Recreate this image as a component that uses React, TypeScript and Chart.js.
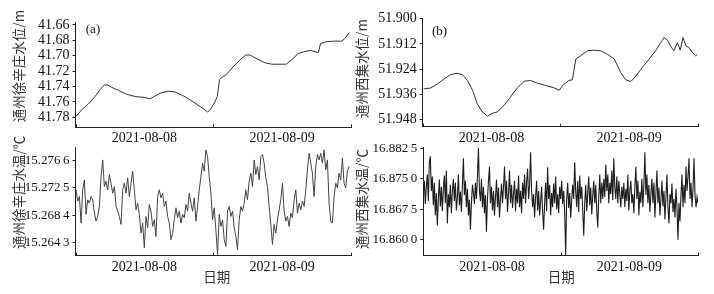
import React, { useEffect, useRef } from 'react';
import { Chart, registerables } from 'chart.js';

Chart.register(...registerables);

// ---------- shared axis data ----------
const dayLabels = ['2021-08-08', '2021-08-09'];
const dayLabelHours = [12, 36];
const dayBoundaryHours = [0, 24, 48];

// ---------- (a) 通州徐辛庄 water level ----------
const levelAHours = [0.1, 1.1, 2.2, 3.4, 4.3, 5.0, 5.6, 6.3, 7.5, 8.9, 10.4, 11.8, 13.0, 13.9, 15.0, 16.2, 17.3, 18.5, 19.7, 21.1, 22.3, 23.0, 23.4, 24.3, 24.7, 25.1, 25.5, 26.2, 27.5, 28.7, 29.7, 30.4, 31.6, 33.0, 34.2, 35.1, 36.7, 37.7, 38.8, 39.7, 40.9, 42.3, 42.7, 43.5, 44.9, 46.4, 47.0, 47.7];
const levelAValues = [41.779, 41.770, 41.763, 41.753, 41.744, 41.738, 41.738, 41.741, 41.745, 41.750, 41.753, 41.754, 41.756, 41.752, 41.748, 41.746, 41.747, 41.751, 41.756, 41.763, 41.769, 41.773, 41.771, 41.760, 41.753, 41.731, 41.728, 41.725, 41.714, 41.705, 41.699, 41.699, 41.704, 41.709, 41.711, 41.711, 41.711, 41.705, 41.697, 41.695, 41.693, 41.696, 41.684, 41.682, 41.681, 41.681, 41.677, 41.670];
const levelATicks = [41.66, 41.68, 41.70, 41.72, 41.74, 41.76, 41.78];
const levelATickLabels = ['41.66', '41.68', '41.70', '41.72', '41.74', '41.76', '41.78'];

// ---------- (b) 通州西集 water level ----------
const levelBHours = [0.2, 1.4, 2.6, 3.7, 4.9, 6.0, 6.9, 7.8, 8.7, 9.5, 10.4, 11.3, 12.1, 13.0, 14.2, 15.3, 16.5, 17.7, 18.8, 20.0, 21.4, 22.9, 23.8, 24.4, 24.9, 25.5, 26.1, 26.7, 27.5, 28.7, 29.9, 31.0, 32.2, 33.4, 34.5, 35.4, 36.3, 37.1, 38.3, 39.5, 40.6, 41.5, 42.1, 42.7, 43.2, 43.8, 44.4, 44.9, 45.4, 45.9, 46.4, 47.0, 47.6, 47.9];
const levelBValues = [51.9334, 51.9330, 51.9310, 51.9287, 51.9266, 51.9260, 51.9266, 51.9294, 51.9341, 51.9404, 51.9444, 51.9464, 51.9451, 51.9444, 51.9412, 51.9373, 51.9329, 51.9298, 51.9294, 51.9307, 51.9318, 51.9329, 51.9341, 51.9318, 51.9307, 51.9294, 51.9291, 51.9192, 51.9177, 51.9153, 51.9150, 51.9153, 51.9169, 51.9192, 51.9255, 51.9291, 51.9299, 51.9276, 51.9232, 51.9192, 51.9153, 51.9114, 51.9090, 51.9103, 51.9130, 51.9153, 51.9114, 51.9150, 51.9090, 51.9130, 51.9137, 51.9161, 51.9177, 51.9169];
const levelBTicks = [51.900, 51.912, 51.924, 51.936, 51.948];
const levelBTickLabels = ['51.900', '51.912', '51.924', '51.936', '51.948'];

// ---------- (a) 通州徐辛庄 water temperature ----------
const tempAStartHour = 0.1;
const tempAStepHour = 0.29;
const tempAValues = [
  15.2722, 15.2705, 15.2712, 15.2672, 15.2722, 15.2737, 15.2685, 15.2707, 15.2702, 15.2712,
  15.2707, 15.2687, 15.2675, 15.2682, 15.2697, 15.2742, 15.2767, 15.2727, 15.2735, 15.2722,
  15.2745, 15.2732, 15.2717, 15.2727, 15.2697, 15.2690, 15.2682, 15.2670, 15.2722, 15.2732,
  15.2717, 15.2740, 15.2712, 15.2732, 15.2750, 15.2722, 15.2692, 15.2702, 15.2685, 15.2657,
  15.2672, 15.2635, 15.2682, 15.2665, 15.2700, 15.2690, 15.2667, 15.2677, 15.2652, 15.2712,
  15.2722, 15.2710, 15.2717, 15.2697, 15.2705, 15.2682, 15.2672, 15.2647, 15.2657, 15.2677,
  15.2695, 15.2680, 15.2690, 15.2672, 15.2685, 15.2680, 15.2700, 15.2690, 15.2717, 15.2702,
  15.2690, 15.2710, 15.2675, 15.2697, 15.2722, 15.2742, 15.2762, 15.2750, 15.2782, 15.2772,
  15.2742, 15.2717, 15.2677, 15.2695, 15.2662, 15.2625, 15.2685, 15.2667, 15.2677, 15.2647,
  15.2637, 15.2690, 15.2697, 15.2682, 15.2690, 15.2665, 15.2652, 15.2632, 15.2677, 15.2697,
  15.2690, 15.2702, 15.2722, 15.2707, 15.2735, 15.2747, 15.2727, 15.2767, 15.2745, 15.2757,
  15.2737, 15.2772, 15.2775, 15.2762, 15.2740, 15.2727, 15.2697, 15.2670, 15.2640, 15.2670,
  15.2657, 15.2677, 15.2692, 15.2707, 15.2732, 15.2690, 15.2675, 15.2682, 15.2667, 15.2687,
  15.2680, 15.2707, 15.2722, 15.2687, 15.2702, 15.2692, 15.2705, 15.2697, 15.2722, 15.2752,
  15.2777, 15.2762, 15.2747, 15.2712, 15.2757, 15.2775, 15.2767, 15.2777, 15.2762, 15.2782,
  15.2752, 15.2767, 15.2702, 15.2675, 15.2672, 15.2712, 15.2732, 15.2725, 15.2747, 15.2737,
  15.2770, 15.2732, 15.2725, 15.2750, 15.2757,
];
const tempATicks = [15.2643, 15.2684, 15.2725, 15.2766];
const tempATickLabels = ['15.264\u20093', '15.268\u20094', '15.272\u20095', '15.276\u20096'];

// ---------- (b) 通州西集 water temperature ----------
const tempBStartHour = 0;
const tempBStepHour = 0.1752;
const tempBValues = [
  16.8712, 16.8745, 16.8688, 16.8730, 16.8760, 16.8695, 16.8790, 16.8805, 16.8720, 16.8755,
  16.8685, 16.8740, 16.8660, 16.8715, 16.8635, 16.8700, 16.8748, 16.8682, 16.8730, 16.8670,
  16.8725, 16.8758, 16.8690, 16.8770, 16.8640, 16.8712, 16.8680, 16.8735, 16.8665, 16.8720,
  16.8750, 16.8695, 16.8740, 16.8672, 16.8705, 16.8760, 16.8685, 16.8718, 16.8668, 16.8735,
  16.8800, 16.8710, 16.8745, 16.8680, 16.8725, 16.8660, 16.8698, 16.8625, 16.8690, 16.8735,
  16.8715, 16.8688, 16.8740, 16.8700, 16.8758, 16.8825, 16.8720, 16.8695, 16.8750, 16.8680,
  16.8730, 16.8665, 16.8710, 16.8620, 16.8700, 16.8745, 16.8780, 16.8690, 16.8730, 16.8672,
  16.8720, 16.8660, 16.8705, 16.8748, 16.8680, 16.8728, 16.8655, 16.8700, 16.8738, 16.8690,
  16.8730, 16.8780, 16.8700, 16.8745, 16.8668, 16.8715, 16.8770, 16.8690, 16.8735, 16.8678,
  16.8712, 16.8745, 16.8670, 16.8725, 16.8690, 16.8758, 16.8680, 16.8720, 16.8665, 16.8740,
  16.8700, 16.8760, 16.8690, 16.8740, 16.8775, 16.8700, 16.8735, 16.8815, 16.8720, 16.8680,
  16.8712, 16.8655, 16.8705, 16.8745, 16.8672, 16.8720, 16.8660, 16.8695, 16.8730, 16.8668,
  16.8625, 16.8690, 16.8740, 16.8670, 16.8778, 16.8700, 16.8735, 16.8660, 16.8715, 16.8680,
  16.8738, 16.8690, 16.8755, 16.8675, 16.8712, 16.8665, 16.8730, 16.8700, 16.8745, 16.8688,
  16.8720, 16.8668, 16.8563, 16.8700, 16.8740, 16.8678, 16.8715, 16.8655, 16.8698, 16.8735,
  16.8700, 16.8790, 16.8720, 16.8680, 16.8745, 16.8668, 16.8758, 16.8700, 16.8730, 16.8672,
  16.8610, 16.8690, 16.8735, 16.8670, 16.8715, 16.8755, 16.8685, 16.8728, 16.8662, 16.8710,
  16.8745, 16.8690, 16.8735, 16.8672, 16.8630, 16.8705, 16.8760, 16.8690, 16.8740, 16.8700,
  16.8750, 16.8705, 16.8785, 16.8720, 16.8760, 16.8690, 16.8740, 16.8712, 16.8770, 16.8698,
  16.8800, 16.8730, 16.8700, 16.8755, 16.8690, 16.8745, 16.8712, 16.8680, 16.8730, 16.8700,
  16.8740, 16.8680, 16.8725, 16.8695, 16.8760, 16.8672, 16.8720, 16.8745, 16.8690, 16.8712,
  16.8665, 16.8730, 16.8780, 16.8700, 16.8745, 16.8660, 16.8718, 16.8690, 16.8750, 16.8680,
  16.8735, 16.8815, 16.8710, 16.8760, 16.8690, 16.8735, 16.8668, 16.8712, 16.8750, 16.8690,
  16.8740, 16.8655, 16.8715, 16.8770, 16.8690, 16.8728, 16.8660, 16.8700, 16.8745, 16.8682,
  16.8720, 16.8650, 16.8705, 16.8760, 16.8680, 16.8640, 16.8712, 16.8690, 16.8738, 16.8668,
  16.8700, 16.8655, 16.8725, 16.8680, 16.8600, 16.8690, 16.8645, 16.8710, 16.8760, 16.8680,
  16.8735, 16.8690, 16.8780, 16.8720, 16.8755, 16.8800, 16.8700, 16.8740, 16.8680, 16.8725,
  16.8800, 16.8710, 16.8680, 16.8705, 16.8690,
];
const tempBTicks = [16.8600, 16.8675, 16.8750, 16.8825];
const tempBTickLabels = ['16.860\u20090', '16.867\u20095', '16.875\u20090', '16.882\u20095'];

// ---------- styling ----------
const SERIF = '"Liberation Serif", "Times New Roman", serif';
const CJK = '"Noto Sans CJK SC", "Noto Sans", sans-serif';
const AXIS_COLOR = '#222';
const TEXT_COLOR = '#111';
const TITLE_COLOR = '#333';

type Pt = { x: number; y: number };

type PanelSpec = {
  left: number; top: number; width: number; height: number;
  areaLeft: number; areaTop: number; areaRight: number; areaBottom: number;
  points: Pt[];
  yMin: number; yMax: number; reverse: boolean;
  yTicks: number[]; yTickLabels: string[]; yFontSize: number;
  yTitle: string; yTitleX: number; yTitleY: number;
  tag?: string; tagX?: number; tagY?: number;
  xTitle?: string; xTitleX?: number; xTitleY?: number;
  lineColor: string; lineWidth: number;
};

function pairs(xs: number[], ys: number[]): Pt[] {
  return ys.map((y, i) => ({ x: xs[i], y }));
}
function regular(start: number, step: number, ys: number[]): Pt[] {
  return ys.map((y, i) => ({ x: start + i * step, y }));
}

function Panel({ spec }: { spec: PanelSpec }) {
  const ref = useRef<HTMLCanvasElement | null>(null);
  useEffect(() => {
    if (!ref.current) return;
    const s = spec;
    const decor = {
      id: 'decor',
      afterDraw(chart: any) {
        const ctx = chart.ctx;
        const area = chart.chartArea;
        const xs = chart.scales.x;
        ctx.save();
        ctx.strokeStyle = AXIS_COLOR;
        ctx.lineWidth = 1;
        dayBoundaryHours.forEach((h) => {
          const px = Math.round(xs.getPixelForValue(h)) + 0.5;
          ctx.beginPath();
          ctx.moveTo(px, area.bottom);
          ctx.lineTo(px, area.bottom - 3);
          ctx.stroke();
        });
        ctx.fillStyle = TITLE_COLOR;
        ctx.font = `13.5px ${CJK}`;
        ctx.textAlign = 'center';
        ctx.textBaseline = 'middle';
        ctx.translate(s.yTitleX, s.yTitleY);
        ctx.rotate(-Math.PI / 2);
        ctx.fillText(s.yTitle, 0, 0);
        ctx.restore();
        ctx.save();
        if (s.tag) {
          ctx.fillStyle = TEXT_COLOR;
          ctx.font = `13px ${SERIF}`;
          ctx.textAlign = 'center';
          ctx.textBaseline = 'middle';
          ctx.fillText(s.tag, s.tagX, s.tagY);
        }
        if (s.xTitle) {
          ctx.fillStyle = TITLE_COLOR;
          ctx.font = `13.5px ${CJK}`;
          ctx.textAlign = 'center';
          ctx.textBaseline = 'middle';
          ctx.fillText(s.xTitle, s.xTitleX, s.xTitleY);
        }
        ctx.restore();
      },
    };
    const chart = new Chart(ref.current, {
      type: 'line',
      data: {
        datasets: [
          {
            data: s.points,
            borderColor: s.lineColor,
            borderWidth: s.lineWidth,
            pointRadius: 0,
            tension: 0,
            fill: false,
          },
        ],
      },
      options: {
        animation: false,
        responsive: false,
        devicePixelRatio: 1,
        events: [],
        parsing: false,
        layout: { padding: { left: 0, top: s.areaTop, right: s.width - s.areaRight, bottom: 0 } },
        plugins: { legend: { display: false }, tooltip: { enabled: false } },
        scales: {
          x: {
            type: 'linear',
            min: 0,
            max: 48,
            grid: { display: false, drawTicks: false },
            border: { display: true, color: AXIS_COLOR, width: 1 },
            ticks: {
              font: { family: SERIF, size: 14 },
              color: TEXT_COLOR,
              padding: 3,
              maxRotation: 0,
              autoSkip: false,
              callback: (_v: any, i: number) => dayLabels[i],
            },
            afterBuildTicks: (axis: any) => {
              axis.ticks = dayLabelHours.map((v) => ({ value: v }));
            },
            afterFit: (axis: any) => {
              axis.height = s.height - s.areaBottom;
            },
          },
          y: {
            type: 'linear',
            min: s.yMin,
            max: s.yMax,
            reverse: s.reverse,
            grid: { display: true, drawOnChartArea: false, drawTicks: true, tickLength: 3, color: AXIS_COLOR },
            border: { display: true, color: AXIS_COLOR, width: 1 },
            ticks: {
              font: { family: SERIF, size: s.yFontSize },
              color: TEXT_COLOR,
              padding: 3,
              autoSkip: false,
              callback: (_v: any, i: number) => s.yTickLabels[i],
            },
            afterBuildTicks: (axis: any) => {
              axis.ticks = s.yTicks.map((v) => ({ value: v }));
            },
            afterFit: (axis: any) => {
              axis.width = s.areaLeft;
            },
          },
        },
      },
      plugins: [decor],
    } as any);
    return () => chart.destroy();
  }, [spec]);
  return (
    <canvas
      ref={ref}
      width={spec.width}
      height={spec.height}
      style={{ position: 'absolute', left: spec.left, top: spec.top, width: spec.width, height: spec.height }}
    />
  );
}

const panels: PanelSpec[] = [
  {
    left: 0, top: 0, width: 357, height: 150,
    areaLeft: 75.5, areaTop: 22, areaRight: 351, areaBottom: 127.3,
    points: pairs(levelAHours, levelAValues),
    yMin: 41.6561, yMax: 41.793, reverse: true,
    yTicks: levelATicks, yTickLabels: levelATickLabels, yFontSize: 14,
    yTitle: '通州徐辛庄水位/m', yTitleX: 18.5, yTitleY: 66,
    tag: '(a)', tagX: 93, tagY: 30,
    lineColor: '#333', lineWidth: 1,
  },
  {
    left: 345, top: 0, width: 369, height: 150,
    areaLeft: 77.7, areaTop: 18, areaRight: 353, areaBottom: 126.7,
    points: pairs(levelBHours, levelBValues),
    yMin: 51.8997, yMax: 51.9514, reverse: true,
    yTicks: levelBTicks, yTickLabels: levelBTickLabels, yFontSize: 14,
    yTitle: '通州西集水位/m', yTitleX: 17.3, yTitleY: 68.5,
    tag: '(b)', tagX: 94.5, tagY: 32,
    lineColor: '#333', lineWidth: 1,
  },
  {
    left: 0, top: 125, width: 357, height: 169,
    areaLeft: 75.5, areaTop: 22.3, areaRight: 351, areaBottom: 130.7,
    points: regular(tempAStartHour, tempAStepHour, tempAValues),
    yMin: 15.2623, yMax: 15.2786, reverse: false,
    yTicks: tempATicks, yTickLabels: tempATickLabels, yFontSize: 13,
    yTitle: '通州徐辛庄水温/℃', yTitleX: 19, yTitleY: 67.3,
    xTitle: '日期', xTitleX: 216.7, xTitleY: 151.7,
    lineColor: '#444', lineWidth: 1,
  },
  {
    left: 345, top: 125, width: 369, height: 169,
    areaLeft: 78.3, areaTop: 22.3, areaRight: 353, areaBottom: 130.7,
    points: regular(tempBStartHour, tempBStepHour, tempBValues),
    yMin: 16.8561, yMax: 16.8827, reverse: false,
    yTicks: tempBTicks, yTickLabels: tempBTickLabels, yFontSize: 13,
    yTitle: '通州西集水温/℃', yTitleX: 17.3, yTitleY: 74,
    xTitle: '日期', xTitleX: 216.3, xTitleY: 151.7,
    lineColor: '#1e1e1e', lineWidth: 1.1,
  },
];

export default function App() {
  return (
    <div style={{ position: 'fixed', left: 0, top: 0, width: 714, height: 294, background: '#fff' }}>
      {panels.map((p, i) => (
        <Panel key={i} spec={p} />
      ))}
    </div>
  );
}
